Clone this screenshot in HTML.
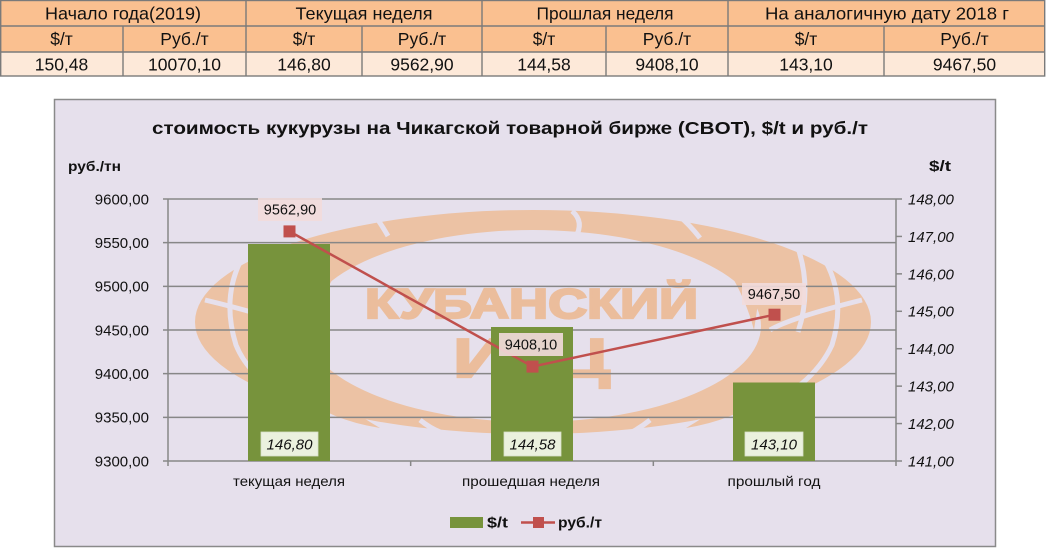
<!DOCTYPE html>
<html><head><meta charset="utf-8"><style>
html,body{margin:0;padding:0;background:#fff;width:1048px;height:551px;overflow:hidden}
svg{display:block}
text{font-family:"Liberation Sans","DejaVu Sans",sans-serif}
</style></head><body>
<svg width="1048" height="551" viewBox="0 0 1048 551" xmlns="http://www.w3.org/2000/svg">
<!-- TABLE -->
<rect x="0" y="0" width="1045" height="52" fill="#FAC090"/>
<rect x="0" y="52" width="1045" height="24" fill="#FDE9D9"/>
<g stroke="#7a7a7a" stroke-width="1.4" fill="none">
<rect x="0.7" y="0.5" width="1044" height="75.5"/>
<line x1="0" y1="26" x2="1045" y2="26"/>
<line x1="0" y1="52" x2="1045" y2="52"/>
<line x1="246" y1="0" x2="246" y2="76"/>
<line x1="482" y1="0" x2="482" y2="76"/>
<line x1="728" y1="0" x2="728" y2="76"/>
<line x1="123" y1="26" x2="123" y2="76"/>
<line x1="362" y1="26" x2="362" y2="76"/>
<line x1="606" y1="26" x2="606" y2="76"/>
<line x1="884" y1="26" x2="884" y2="76"/>
</g>
<g font-size="17.5" fill="#111" text-anchor="middle">
<text x="123" y="19.5" textLength="156" lengthAdjust="spacingAndGlyphs">Начало года(2019)</text>
<text x="364" y="19.5" textLength="137" lengthAdjust="spacingAndGlyphs">Текущая неделя</text>
<text x="605" y="19.5" textLength="137" lengthAdjust="spacingAndGlyphs">Прошлая неделя</text>
<text x="887" y="19.5" textLength="244" lengthAdjust="spacingAndGlyphs">На аналогичную дату 2018 г</text>
<text x="61.5" y="45">$/т</text>
<text x="184.5" y="45">Руб./т</text>
<text x="304" y="45">$/т</text>
<text x="422" y="45">Руб./т</text>
<text x="544" y="45">$/т</text>
<text x="667" y="45">Руб./т</text>
<text x="806" y="45">$/т</text>
<text x="964.5" y="45">Руб./т</text>
<text x="61.5" y="70.5">150,48</text>
<text x="184.5" y="70.5">10070,10</text>
<text x="304" y="70.5">146,80</text>
<text x="422" y="70.5">9562,90</text>
<text x="544" y="70.5">144,58</text>
<text x="667" y="70.5">9408,10</text>
<text x="806" y="70.5">143,10</text>
<text x="964.5" y="70.5">9467,50</text>
</g>

<!-- CHART FRAME -->
<rect x="54.5" y="99.5" width="941" height="447" fill="#E6E0EC" stroke="#8a8a8a" stroke-width="1.5"/>

<!-- WATERMARK -->
<g fill="#ECC2A4">
<path fill-rule="evenodd" d="M195,322 A338,112 0 1,0 871,322 A338,112 0 1,0 195,322 Z M305,326 A228,96 0 1,0 761,326 A228,96 0 1,0 305,326 Z"/>
<path d="M300,250 Q340,225 395,222 Q350,245 335,275 Q320,300 312,330 Z"/>
<path d="M766,250 Q726,225 672,222 Q716,245 731,275 Q746,300 754,330 Z"/>
<path d="M300,395 Q330,420 380,428 Q340,405 320,380 Z"/>
<path d="M766,395 Q736,420 686,428 Q726,405 746,380 Z"/>
</g>
<g stroke="#E6E0EC" stroke-width="5" fill="none">
<path d="M372,212 Q380,222 388,236"/>
<path d="M572,211 Q585,222 575,238"/>
<path d="M676,213 Q690,225 700,238"/>
<path d="M240,262 Q222,300 236,345 Q250,380 300,405"/>
<path d="M268,248 Q254,290 268,332"/>
<path d="M826,262 Q846,300 832,345 Q816,380 770,405"/>
<path d="M798,248 Q812,290 798,332"/>
<path d="M420,420 Q430,428 440,432"/>
<path d="M650,420 Q640,428 630,433"/>
<path d="M205,300 Q280,318 300,330"/>
<path d="M862,300 Q790,318 770,330"/>
</g>
<g fill="#EBBD9C" stroke="#EBBD9C" stroke-width="2.2" font-weight="bold">
<text x="365" y="318" font-size="42" textLength="333" lengthAdjust="spacingAndGlyphs">КУБАНСКИЙ</text>
<text x="453" y="377" font-size="55" textLength="157" lengthAdjust="spacingAndGlyphs">ИКЦ</text>
</g>

<!-- GRID -->
<g stroke="#878787" stroke-width="1.5">
<line x1="163" y1="199" x2="896" y2="199"/>
<line x1="163" y1="242.67" x2="896" y2="242.67"/>
<line x1="163" y1="286.33" x2="896" y2="286.33"/>
<line x1="163" y1="330" x2="896" y2="330"/>
<line x1="163" y1="373.67" x2="896" y2="373.67"/>
<line x1="163" y1="417.33" x2="896" y2="417.33"/>
<line x1="163" y1="461" x2="896" y2="461"/>
<line x1="168" y1="199" x2="168" y2="466"/>
<line x1="410.67" y1="461" x2="410.67" y2="466"/>
<line x1="653.33" y1="461" x2="653.33" y2="466"/>
<line x1="896" y1="199" x2="896" y2="466"/>
<line x1="896" y1="199" x2="902" y2="199"/>
<line x1="896" y1="236.43" x2="902" y2="236.43"/>
<line x1="896" y1="273.86" x2="902" y2="273.86"/>
<line x1="896" y1="311.29" x2="902" y2="311.29"/>
<line x1="896" y1="348.71" x2="902" y2="348.71"/>
<line x1="896" y1="386.14" x2="902" y2="386.14"/>
<line x1="896" y1="423.57" x2="902" y2="423.57"/>
<line x1="896" y1="461" x2="902" y2="461"/>
</g>

<!-- BARS -->
<g fill="#77933C">
<rect x="248" y="244" width="82" height="217"/>
<rect x="491" y="327" width="82" height="134"/>
<rect x="733" y="382.5" width="82" height="78.5"/>
</g>
<g fill="#EBF1DE" stroke="#d8dfc8" stroke-width="0.8">
<rect x="261" y="432" width="57" height="24"/>
<rect x="504" y="432" width="57" height="24"/>
<rect x="745" y="432" width="58" height="24"/>
</g>
<g font-size="15" font-style="italic" fill="#111" text-anchor="middle">
<text x="289.5" y="449.5">146,80</text>
<text x="532.5" y="449.5">144,58</text>
<text x="774" y="449.5">143,10</text>
</g>

<!-- LINE -->
<polyline points="289.5,231.4 532.5,366.6 774.5,314.7" fill="none" stroke="#C0504D" stroke-width="2.5"/>
<g fill="#C0504D">
<rect x="283.5" y="225.4" width="12" height="12"/>
<rect x="526.5" y="360.6" width="12" height="12"/>
<rect x="768.5" y="308.7" width="12" height="12"/>
</g>
<g fill="#F2DCDB" fill-opacity="0.9">
<rect x="258" y="198" width="64" height="23"/>
<rect x="499" y="333" width="64" height="23"/>
<rect x="742" y="283" width="64" height="22"/>
</g>
<g font-size="14.5" fill="#111" text-anchor="middle">
<text x="290" y="214.5">9562,90</text>
<text x="531" y="349.5">9408,10</text>
<text x="774" y="299">9467,50</text>
</g>

<!-- AXIS LABELS -->
<g font-size="15" fill="#111" text-anchor="end">
<text x="149" y="204.5">9600,00</text>
<text x="149" y="248">9550,00</text>
<text x="149" y="291.5">9500,00</text>
<text x="149" y="335.5">9450,00</text>
<text x="149" y="379">9400,00</text>
<text x="149" y="422.5">9350,00</text>
<text x="149" y="466.5">9300,00</text>
</g>
<g font-size="15" font-style="italic" fill="#111">
<text x="908" y="204.5">148,00</text>
<text x="908" y="242">147,00</text>
<text x="908" y="279.5">146,00</text>
<text x="908" y="316.5">145,00</text>
<text x="908" y="354">144,00</text>
<text x="908" y="391.5">143,00</text>
<text x="908" y="429">142,00</text>
<text x="908" y="466.5">141,00</text>
</g>
<g font-size="14" fill="#111" text-anchor="middle">
<text x="289" y="486" textLength="112" lengthAdjust="spacingAndGlyphs">текущая неделя</text>
<text x="531" y="486" textLength="138" lengthAdjust="spacingAndGlyphs">прошедшая неделя</text>
<text x="774" y="486" textLength="93" lengthAdjust="spacingAndGlyphs">прошлый год</text>
</g>
<g font-weight="bold" fill="#111">
<text x="68" y="171" font-size="14" textLength="53" lengthAdjust="spacingAndGlyphs">руб./тн</text>
<text x="929" y="171" font-size="15" textLength="22" lengthAdjust="spacingAndGlyphs">$/t</text>
<text x="152" y="134" font-size="17.5" textLength="716" lengthAdjust="spacingAndGlyphs">стоимость кукурузы на Чикагской товарной бирже (CBOT), $/t и руб./т</text>
</g>

<!-- LEGEND -->
<rect x="450" y="517" width="33" height="11" fill="#77933C"/>
<line x1="521" y1="522.5" x2="555" y2="522.5" stroke="#C0504D" stroke-width="2.5"/>
<rect x="533" y="517" width="11" height="11" fill="#C0504D"/>
<g font-weight="bold" font-size="15" fill="#111">
<text x="487" y="527.5" textLength="21" lengthAdjust="spacingAndGlyphs">$/t</text>
<text x="558" y="527.5" textLength="44" lengthAdjust="spacingAndGlyphs">руб./т</text>
</g>
</svg>
</body></html>
